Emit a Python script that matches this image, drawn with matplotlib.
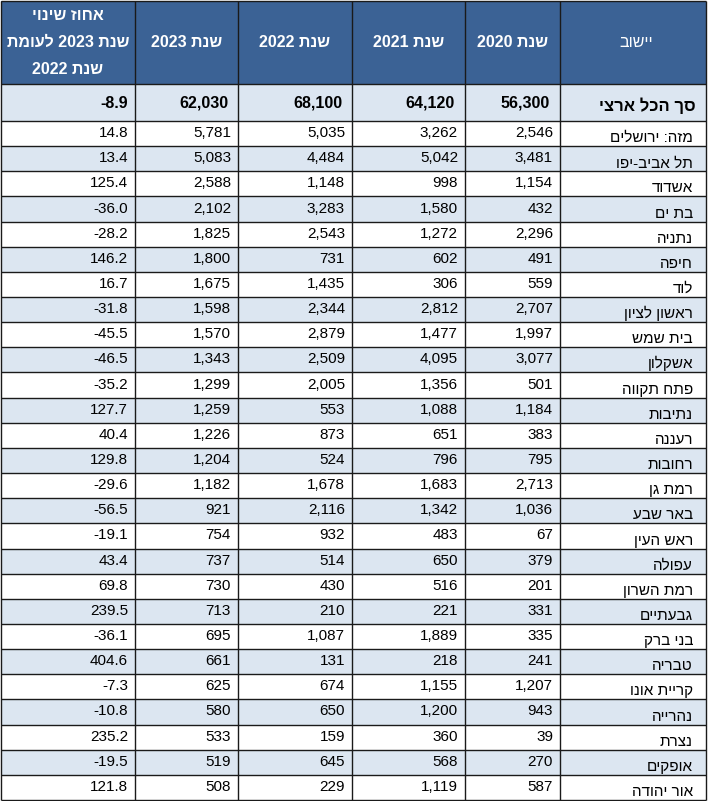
import re
import matplotlib
matplotlib.use("Agg")
import matplotlib.pyplot as plt
from matplotlib.patches import Rectangle

plt.rcParams['font.family'] = ['Liberation Sans', 'DejaVu Sans']

# ---- data ----
header_name = "יישוב"
year_headers = ["שנת 2020", "שנת 2021", "שנת 2022", "שנת 2023"]
pct_header = ["אחוז שינוי", "שנת 2023 לעומת", "שנת 2022"]
total_label = "סך הכל ארצי"
total_values = [56300, 64120, 68100, 62030]
total_pct = -8.9

names = ["מזה: ירושלים", "תל אביב-יפו", "אשדוד", "בת ים", "נתניה", "חיפה", "לוד",
         "ראשון לציון", "בית שמש", "אשקלון", "פתח תקווה", "נתיבות", "רעננה", "רחובות",
         "רמת גן", "באר שבע", "ראש העין", "עפולה", "רמת השרון", "גבעתיים", "בני ברק",
         "טבריה", "קריית אונו", "נהרייה", "נצרת", "אופקים", "אור יהודה"]
y2020 = [2546, 3481, 1154, 432, 2296, 491, 559, 2707, 1997, 3077, 501, 1184, 383, 795,
         2713, 1036, 67, 379, 201, 331, 335, 241, 1207, 943, 39, 270, 587]
y2021 = [3262, 5042, 998, 1580, 1272, 602, 306, 2812, 1477, 4095, 1356, 1088, 651, 796,
         1683, 1342, 483, 650, 516, 221, 1889, 218, 1155, 1200, 360, 568, 1119]
y2022 = [5035, 4484, 1148, 3283, 2543, 731, 1435, 2344, 2879, 2509, 2005, 553, 873, 524,
         1678, 2116, 932, 514, 430, 210, 1087, 131, 674, 650, 159, 645, 229]
y2023 = [5781, 5083, 2588, 2102, 1825, 1800, 1675, 1598, 1570, 1343, 1299, 1259, 1226, 1204,
         1182, 921, 754, 737, 730, 713, 695, 661, 625, 580, 533, 519, 508]
pct = [14.8, 13.4, 125.4, -36.0, -28.2, 146.2, 16.7, -31.8, -45.5, -46.5, -35.2, 127.7, 40.4,
       129.8, -29.6, -56.5, -19.1, 43.4, 69.8, 239.5, -36.1, 404.6, -7.3, -10.8, 235.2, -19.5, 121.8]


def vis(s):
    """Simple RTL visual reordering: reverse, then restore number runs."""
    r = s[::-1]
    return re.sub(r"[0-9][0-9.,]*", lambda m: m.group(0)[::-1], r)


# ---- layout (pixels) ----
W, H = 708, 801
col_edges = [1, 135, 238, 352, 465, 560, 706]
header_top, header_bot = 1, 84
total_bot = 121
table_bot = 800
n = len(names)
row_h = (table_bot - total_bot) / n

HEAD_BLUE = "#3b6295"
LIGHT = "#dce6f1"
LINE = "#1a1a1a"

fig = plt.figure(figsize=(W / 100, H / 100), dpi=100)
ax = fig.add_axes([0, 0, 1, 1])
ax.set_xlim(0, W)
ax.set_ylim(H, 0)
ax.axis("off")

x0, x1 = col_edges[0], col_edges[-1]
# backgrounds
ax.add_patch(Rectangle((x0, header_top), x1 - x0, header_bot - header_top, color=HEAD_BLUE, lw=0))
ax.add_patch(Rectangle((x0, header_bot), x1 - x0, total_bot - header_bot, color=LIGHT, lw=0))
for i in range(n):
    if i % 2 == 1:
        top = total_bot + i * row_h
        ax.add_patch(Rectangle((x0, top), x1 - x0, row_h, color=LIGHT, lw=0))

# grid lines
lw = 1.0
hlines = [header_top, header_bot, total_bot] + [total_bot + i * row_h for i in range(1, n + 1)]
for y in hlines:
    ax.plot([x0, x1], [y, y], color=LINE, lw=lw, solid_capstyle="butt")
for x in col_edges:
    ax.plot([x, x], [header_top, table_bot], color=LINE, lw=lw, solid_capstyle="butt")

# header texts
hc = (header_top + header_bot) / 2
ax.text((col_edges[5] + col_edges[6]) / 2 + 3, hc, vis(header_name), color="white",
        fontsize=11.5, ha="center", va="center")
for j, t in enumerate(year_headers):
    cx = (col_edges[4 - j] + col_edges[5 - j]) / 2
    ax.text(cx, hc, vis(t), color="white", fontsize=11.5, fontweight="bold",
            ha="center", va="center")
for k, t in enumerate(pct_header):
    ax.text((col_edges[0] + col_edges[1]) / 2, 15 + k * 27.5, vis(t), color="white",
            fontsize=11.5, fontweight="bold", ha="center", va="center")

pad = 7
# total row
tc = (header_bot + total_bot) / 2 + 1
ax.text(col_edges[6] - 10, tc + 2, vis(total_label), fontsize=12, fontweight="bold",
        ha="right", va="center", color="black")
for j, v in enumerate(total_values):
    ax.text(col_edges[5 - j] - pad - 3, tc, f"{v:,}", fontsize=11.5, fontweight="bold",
            ha="right", va="center")
ax.text(col_edges[1] - pad, tc, f"{total_pct:.1f}", fontsize=11.5, fontweight="bold",
        ha="right", va="center")

# data rows
cols = [y2020, y2021, y2022, y2023]
for i in range(n):
    top = total_bot + i * row_h
    cy = top + row_h / 2 - 0.5
    ax.text(col_edges[6] - 13, top + row_h - 4, vis(names[i]), fontsize=11,
            ha="right", va="baseline")
    for j, c in enumerate(cols):
        ax.text(col_edges[5 - j] - pad, cy, f"{c[i]:,}", fontsize=11,
                ha="right", va="center")
    ax.text(col_edges[1] - pad, cy, f"{pct[i]:.1f}", fontsize=11, ha="right", va="center")

fig.savefig("out.png", dpi=100)
